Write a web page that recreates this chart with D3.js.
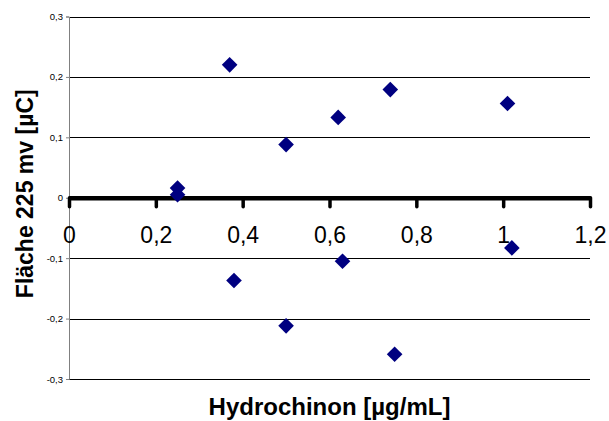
<!DOCTYPE html>
<html>
<head>
<meta charset="utf-8">
<script src="https://cdn.jsdelivr.net/npm/d3@7"></script>
<style>
  html, body { margin: 0; padding: 0; background: #fff; }
  svg { display: block; font-family: "Liberation Sans", Arial, sans-serif; }
</style>
</head>
<body>
<svg id="chart" width="609" height="421"></svg>
<script>
// Data
const xValues = [0.25, 0.25, 0.37, 0.50, 0.62, 0.74, 1.01, 0.38, 0.50, 0.63, 0.75, 1.02];
const yValues = [0.016, 0.005, 0.220, 0.088, 0.133, 0.179, 0.156, -0.137, -0.212, -0.105, -0.259, -0.083];
const xTicks = [0, 0.2, 0.4, 0.6, 0.8, 1.0, 1.2];
const yTicks = [-0.3, -0.2, -0.1, 0, 0.1, 0.2, 0.3];
const xTitle = "Hydrochinon [µg/mL]";
const yTitle = "Fläche 225 mv [µC]";

const points = xValues.map((x, i) => ({ x, y: yValues[i] }));
const fmt = d => String(+d.toFixed(1)).replace(".", ",");

const svg = d3.select("#chart");
const mLeft = 69, mRight = 590, mTop = 16.5, mBottom = 379;

const x = d3.scaleLinear().domain([0, 1.2]).range([mLeft, mRight]);
const y = d3.scaleLinear().domain([-0.3, 0.3]).range([mBottom, mTop]);

// Gridlines
svg.append("g").selectAll("line")
  .data(yTicks.filter(d => d !== 0))
  .join("line")
  .attr("x1", mLeft).attr("x2", mRight)
  .attr("y1", d => Math.round(y(d)) + 0.5).attr("y2", d => Math.round(y(d)) + 0.5)
  .attr("stroke", "#000").attr("stroke-width", 1);

// Left axis
const gy = svg.append("g")
  .attr("transform", `translate(${mLeft},0)`)
  .call(d3.axisLeft(y).tickValues(yTicks).tickFormat(fmt).tickSize(3).tickPadding(3));
gy.select(".domain").attr("stroke", "#808080");
gy.selectAll(".tick line").attr("stroke", "#808080");
gy.selectAll(".tick text").attr("font-size", 9.5).attr("fill", "#000")
  .attr("font-family", "Liberation Sans, Arial, sans-serif");

// Bottom (zero) axis
const gx = svg.append("g")
  .attr("transform", `translate(0,${y(0)})`)
  .call(d3.axisBottom(x).tickValues(xTicks).tickFormat(fmt).tickSize(9).tickPadding(20).tickSizeOuter(0));
gx.select(".domain").attr("stroke", "#000").attr("stroke-width", 4.5);
gx.selectAll(".tick line").attr("stroke", "#000").attr("stroke-width", 3.5).attr("stroke-linecap", "round");
gx.selectAll(".tick text").attr("font-size", 23).attr("fill", "#000")
  .attr("font-family", "Liberation Sans, Arial, sans-serif");

// Points (diamonds)
const diamond = d3.symbol().type(d3.symbolSquare).size(122);
svg.append("g").selectAll("path")
  .data(points)
  .join("path")
  .attr("d", diamond)
  .attr("transform", d => `translate(${x(d.x)},${y(d.y)}) rotate(45)`)
  .attr("fill", "#000080");

// Axis titles
svg.append("text")
  .attr("x", (mLeft + mRight) / 2).attr("y", 415)
  .attr("text-anchor", "middle")
  .attr("font-size", 24).attr("font-weight", "bold")
  .text(xTitle);

svg.append("text")
  .attr("transform", `translate(33,${(mTop + mBottom) / 2 - 4}) rotate(-90)`)
  .attr("text-anchor", "middle")
  .attr("font-size", 23).attr("font-weight", "bold")
  .text(yTitle);
</script>
</body>
</html>
